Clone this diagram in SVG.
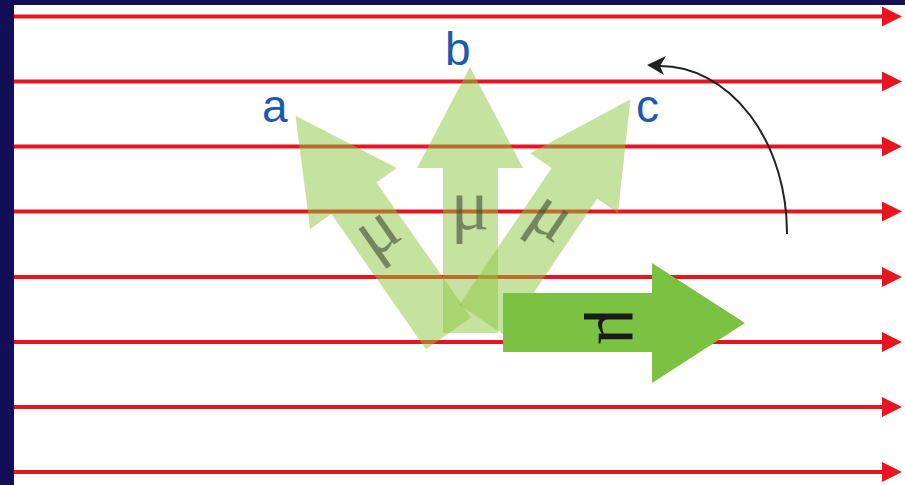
<svg xmlns="http://www.w3.org/2000/svg" width="905" height="485" viewBox="0 0 905 485">
<defs>
<style>
.field{stroke:#e8141f;stroke-width:4;fill:none}
.ghost{fill:#8dc63f;fill-opacity:0.5}
.ghost-mu{font-family:"Liberation Serif","Times New Roman",serif;font-size:72px;fill:#3f4a35;fill-opacity:0.6;text-anchor:middle}
.solid{fill:#7cc242}
.solid-mu{font-family:"Liberation Serif","Times New Roman",serif;font-size:72px;fill:#1a1a1a;text-anchor:middle}
.label{font-family:"Liberation Sans",Arial,sans-serif;font-size:46px;fill:#1b5aae}
.turn{stroke:#222;stroke-width:2;fill:none}
</style>
<marker id="redhead" markerUnits="userSpaceOnUse" markerWidth="20" markerHeight="20" viewBox="0 0 20 20" refX="1" refY="10" orient="auto">
<path d="M0,0 L20,10 L0,20 z" fill="#e8141f"/>
</marker>
</defs>
<rect x="0" y="0" width="905" height="485" fill="#ffffff"/>
<rect x="0" y="0" width="905" height="5" fill="#130f57"/>
<rect x="0" y="0" width="14" height="485" fill="#130f57"/>
<g id="field-lines">
<line class="field" x1="14" y1="16.5" x2="883" y2="16.5" marker-end="url(#redhead)"/>
<line class="field" x1="14" y1="81.5" x2="883" y2="81.5" marker-end="url(#redhead)"/>
<line class="field" x1="14" y1="146.5" x2="883" y2="146.5" marker-end="url(#redhead)"/>
<line class="field" x1="14" y1="211.5" x2="883" y2="211.5" marker-end="url(#redhead)"/>
<line class="field" x1="14" y1="277" x2="883" y2="277" marker-end="url(#redhead)"/>
<line class="field" x1="14" y1="342" x2="883" y2="342" marker-end="url(#redhead)"/>
<line class="field" x1="14" y1="407" x2="883" y2="407" marker-end="url(#redhead)"/>
<line class="field" x1="14" y1="472" x2="883" y2="472" marker-end="url(#redhead)"/>
</g>
<g id="arrow-a" transform="translate(353.5,198.5) rotate(-35) translate(-470,-168)">
<polygon class="ghost" points="443,333 443,168 417,168 470,67 523,168 498,168 498,333"/>
<text class="ghost-mu" x="470" y="229">μ</text>
</g>
<g id="arrow-b">
<polygon class="ghost" points="443,333 443,168 417,168 470,67 523,168 498,168 498,333"/>
<text class="ghost-mu" x="470" y="229">μ</text>
</g>
<g id="arrow-c" transform="translate(574,183) rotate(34) translate(-470,-168)">
<polygon class="ghost" points="443,333 443,168 417,168 470,67 523,168 498,168 498,333"/>
<text class="ghost-mu" x="470" y="229">μ</text>
</g>
<g id="arrow-final">
<polygon class="solid" points="503,293 652,293 652,263 745,323 652,383 652,352 503,352"/>
<text class="solid-mu" transform="translate(607,327) rotate(90)" x="0" y="8">μ</text>
</g>
<g id="label-a"><text class="label" x="262" y="122">a</text></g>
<g id="label-b"><text class="label" x="445" y="65">b</text></g>
<g id="label-c"><text class="label" x="636" y="122">c</text></g>
<g id="connectors">
<path class="turn" d="M787,234 A127,167 0 0 0 660,66"/>
<polygon points="647,65 666,56 660,66 664,75" fill="#222"/>
</g>
</svg>
